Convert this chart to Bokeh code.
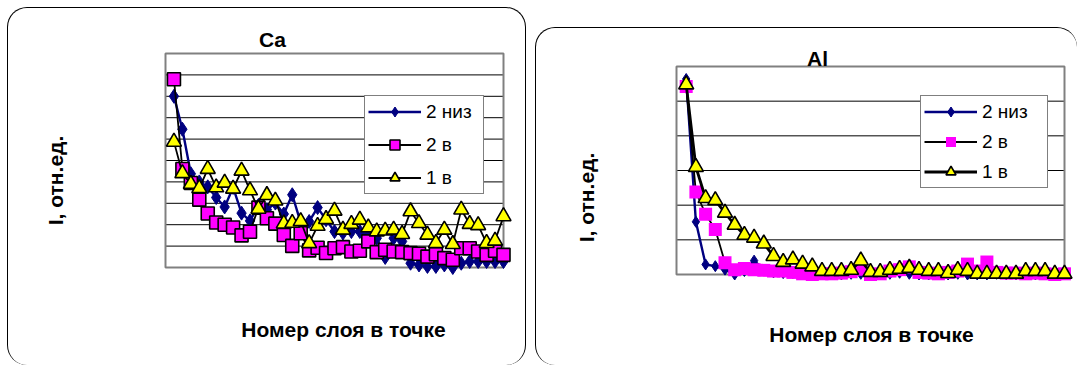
from bokeh.plotting import figure
from bokeh.models import Label, Legend, LegendItem, Range1d, Spacer
from bokeh.layouts import row, column
from bokeh.embed import file_html
from bokeh.resources import INLINE

# ---------------- data ----------------
layers = list(range(1, 41))
series_labels = ["2 низ", "2 в", "1 в"]
y_label = "I, отн.ед."
x_label = "Номер слоя в точке"

ca_title = "Ca"
ca_2niz = [8.0, 6.46, 4.38, 4.0, 3.77, 3.27, 2.83, 3.74, 2.54, 2.18, 2.9, 2.7, 3.01, 2.5, 3.4, 2.1, 2.15, 2.8, 2.23, 1.68,
           1.61, 1.68, 1.68, 1.53, 1.37, 0.47, 1.37, 1.22, 0.2, 0.12, 0.05, 0.05, 0.12, 0.0, 0.2, 0.28, 0.28, 0.28, 0.28, 0.28]
ca_2v = [8.8, 4.6, 3.95, 3.17, 2.52, 2.1, 2.0, 1.87, 1.5, 1.67, 2.8, 2.3, 2.05, 1.52, 1.01, 1.6, 0.8, 0.92, 0.68, 0.9,
         0.95, 0.75, 0.78, 1.22, 0.72, 0.83, 0.75, 0.72, 0.67, 0.64, 0.51, 0.62, 0.44, 0.36, 0.9, 0.9, 0.75, 0.59, 0.78, 0.59]
ca_1v = [5.87, 4.4, 3.9, 3.7, 4.6, 3.74, 3.96, 3.68, 4.52, 3.6, 2.74, 3.38, 3.12, 2.05, 2.08, 2.16, 1.13, 1.94, 2.26, 2.65,
         1.76, 2.03, 2.23, 1.87, 1.68, 1.72, 1.76, 1.56, 2.62, 2.07, 1.53, 1.14, 1.76, 1.09, 2.7, 2.03, 1.97, 1.14, 1.25, 2.39]

al_title = "Al"
al_2niz = [5.64, 1.52, 0.29, 0.24, 0.14, 0.0, 0.1, 0.4, 0.14, 0.06, 0.04, 0.04, 0.02, 0.1, 0.02, 0.02, 0.0, 0.02, 0.02, 0.0,
           0.02, 0.02, 0.05, 0.02, 0.0, 0.0, 0.02, 0.0, 0.02, 0.0, 0.0, 0.0, 0.02, 0.0, 0.0, 0.0, 0.0, 0.0, 0.0, 0.02]
al_2v = [5.42, 2.38, 1.74, 1.3, 0.34, 0.14, 0.17, 0.14, 0.12, 0.1, 0.1, 0.06, 0.02, 0.0, 0.02, 0.02, 0.04, 0.08, 0.15, 0.0,
         0.02, 0.1, 0.14, 0.22, 0.06, 0.04, 0.02, 0.06, 0.1, 0.3, 0.1, 0.36, 0.06, 0.04, 0.04, 0.02, 0.04, 0.02, 0.0, 0.02]
al_1v = [5.48, 3.1, 2.2, 2.14, 1.78, 1.43, 1.14, 1.06, 0.89, 0.53, 0.36, 0.43, 0.31, 0.23, 0.1, 0.1, 0.1, 0.13, 0.4, 0.07,
         0.07, 0.13, 0.16, 0.19, 0.13, 0.1, 0.1, 0.04, 0.13, 0.1, 0.02, 0.02, 0.02, 0.02, 0.02, 0.1, 0.1, 0.1, 0.02, 0.02]

FONT = "Liberation Sans"
NAVY = "#000080"
MAGENTA = "#FF00FF"
YELLOW = "#FFFF00"
N = len(layers)


def make_panel(title, s1, s2, s3, ymax, g, styles, pink_outline, thick_black):
    W, H = g["W"], g["H"]
    ax0, ax1, ay0, ay1 = g["area"]          # plot area in canvas pixels (left, right, top, bottom)
    sx = (ax1 - ax0) / N
    sy = (ay1 - ay0) / ymax
    x_start = -ax0 / sx
    y_start = -(H - ay1) / sy
    p = figure(width=W, height=H, min_border=0,
               x_range=Range1d(x_start, x_start + W / sx),
               y_range=Range1d(y_start, y_start + H / sy),
               x_axis_location=None, y_axis_location=None,
               output_backend="svg", toolbar_location=None, title=None,
               border_fill_color=None, background_fill_color=None,
               outline_line_color=None, styles=styles)
    p.grid.visible = False

    # plot area, grid, frame
    p.quad(left=[0], right=[N], bottom=[0], top=[ymax], fill_color="white", line_color=None)
    levels = list(range(1, ymax))
    p.segment(x0=[0] * len(levels), x1=[N] * len(levels), y0=levels, y1=levels,
              line_color="black", line_width=1)
    p.quad(left=[0], right=[N], bottom=[0], top=[ymax], fill_color=None,
           line_color="#808080", line_width=2)

    # series 1: 2 низ
    l1 = p.line(layers, s1, line_color=NAVY, line_width=2.4)
    m1 = p.scatter(layers, s1, marker="diamond", size=g["ds"], fill_color=NAVY, line_color=NAVY)
    # series 2: 2 в
    l2 = p.line(layers, s2, line_color="black", line_width=1.8)
    m2 = p.scatter(layers, s2, marker="square", size=13, fill_color=MAGENTA,
                   line_color="black" if pink_outline else None, line_width=1.6)
    # series 3: 1 в
    l3 = p.line(layers, s3, line_color="black", line_width=thick_black)
    m3 = p.scatter(layers, s3, marker="triangle", size=15, fill_color=YELLOW, line_color="black", line_width=1.6)

    lg = Legend(items=[LegendItem(label=series_labels[0], renderers=[l1, m1]),
                       LegendItem(label=series_labels[1], renderers=[l2, m2]),
                       LegendItem(label=series_labels[2], renderers=[l3, m3])],
                location=g["leg"], padding=3, spacing=g["ls"],
                glyph_width=53, glyph_height=25, label_height=20, label_width=g["lw"], label_standoff=5,
                label_text_font=FONT, label_text_font_size="19px", label_text_color="black",
                border_line_color="black", border_line_width=1,
                background_fill_color="white", background_fill_alpha=1.0, margin=0)
    p.add_layout(lg)

    common = dict(x_units="screen", y_units="screen", text_font=FONT, text_font_style="bold",
                  text_color="black", text_align="center", text_baseline="middle", text_font_size="21px")
    p.add_layout(Label(x=g["t"][0], y=H - g["t"][1], text=title, **common))
    p.add_layout(Label(x=g["yl"][0], y=H - g["yl"][1], text=y_label, angle=1.5708, **common))
    p.add_layout(Label(x=g["xl"][0], y=H - g["xl"][1], text=x_label, **common))
    return p


# left panel canvas starts at page (8, 8); right panel canvas at page (538, 28)
left_geo = dict(W=519, H=358, area=(157, 495, 45, 259), ds=14,
                leg=(356, 358 - 186), ls=8, lw=54,
                t=(264, 31), yl=(47, 172), xl=(335, 321))
right_geo = dict(W=542, H=338, area=(140, 528, 38, 246), ds=11,
                 leg=(384, 338 - 160), ls=5, lw=62,
                 t=(281, 30), yl=(50, 169), xl=(335, 306))

left = make_panel(ca_title, ca_2niz, ca_2v, ca_1v, 10, left_geo,
                  {"border": "1px solid black", "border-bottom": "none", "border-radius": "20px"},
                  True, 1.8)
right = make_panel(al_title, al_2niz, al_2v, al_1v, 6, right_geo,
                   {"border": "1px solid black", "border-bottom": "none", "border-right": "none",
                    "border-radius": "20px"},
                   False, 2.8)

layout = row(Spacer(width=7), column(Spacer(height=7), left), Spacer(width=9),
             column(Spacer(height=27), right))

open("out.html", "w").write(file_html(layout, INLINE))
